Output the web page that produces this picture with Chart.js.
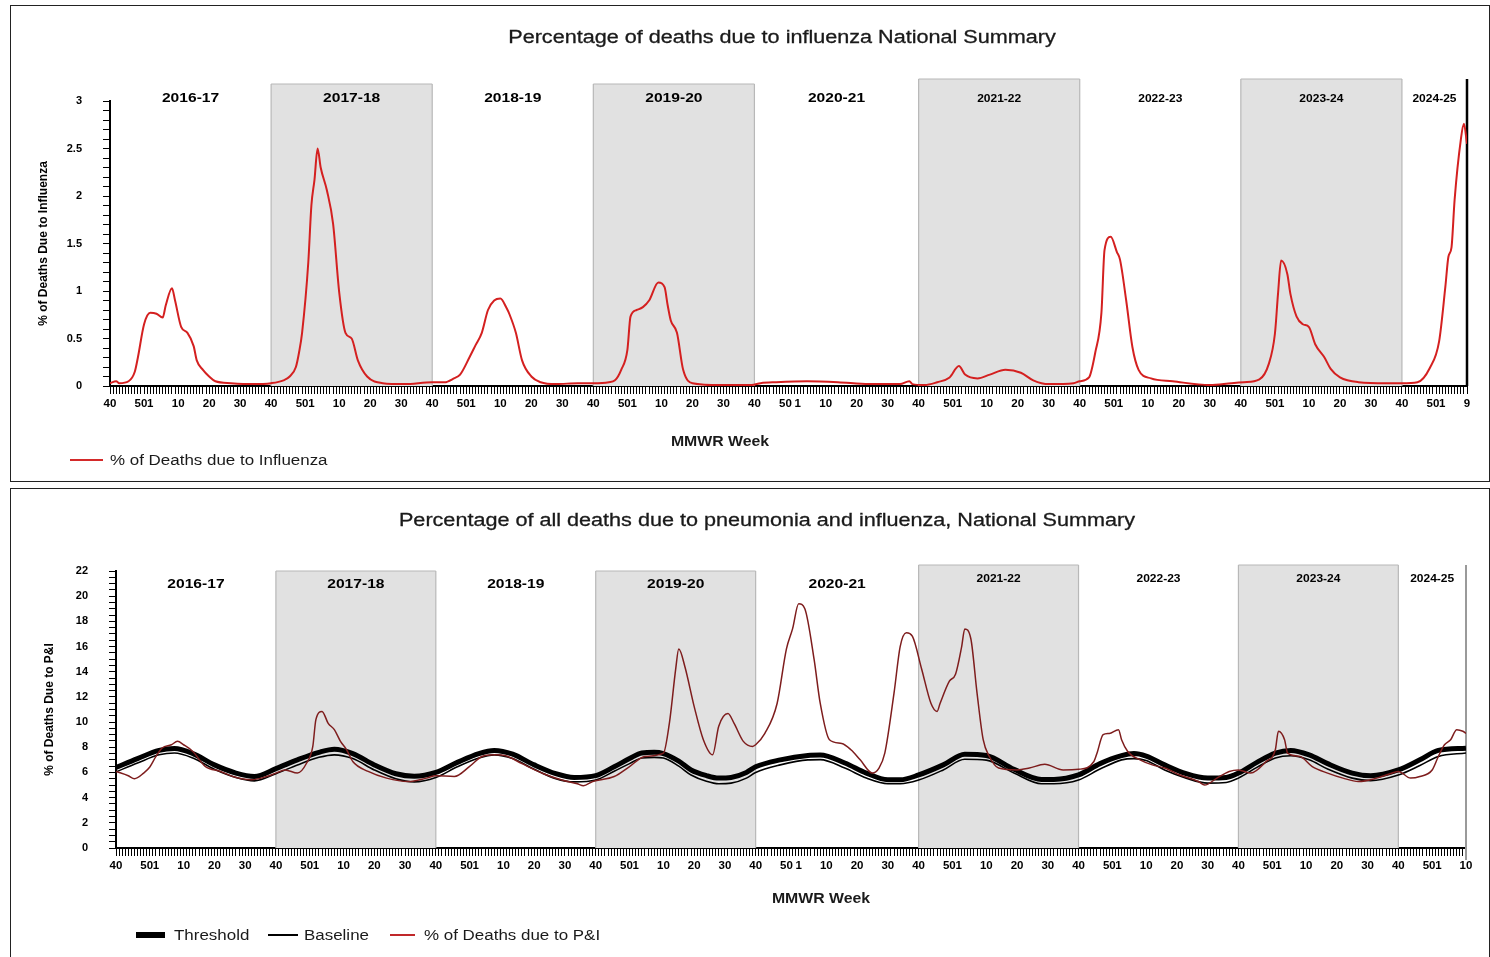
<!DOCTYPE html>
<html>
<head>
<meta charset="utf-8">
<title>Influenza and P&amp;I mortality, National Summary</title>
<script src="https://cdn.jsdelivr.net/npm/chart.js@4.4.1/dist/chart.umd.min.js"></script>
<style>
  html, body { margin: 0; padding: 0; background: #fff; overflow: hidden; }
  body { width: 1490px; height: 957px; position: relative; font-family: 'Liberation Sans', Arial, sans-serif; color: #1a1a1a; }
  .panel { position: absolute; box-sizing: border-box; border: 1.5px solid #222; }
  .plot { position: absolute; left: 0; top: 0; right: 0; bottom: 0; }
  .txt { position: absolute; white-space: nowrap; }
  .title { font-size: 18px; line-height: 22px; width: 1000px; text-align: center; -webkit-text-stroke: 0.3px #1a1a1a; transform: scaleX(1.2); }
  .xtitle { font-size: 14px; font-weight: bold; line-height: 16px; width: 200px; text-align: center; transform: scaleX(1.13); }
  .legend { font-size: 14px; line-height: 16px; transform: scaleX(1.21); transform-origin: left center; }
  .swatch { position: absolute; }
</style>
</head>
<body>
<div class="panel" style="left:10px;top:5px;width:1480px;height:477px"><div class="plot"><canvas id="fluChart"></canvas></div></div>
<div class="panel" style="left:10px;top:488px;width:1480px;height:469px;border-bottom:none"><div class="plot"><canvas id="piChart"></canvas></div></div>

<div class="txt title" style="left:282px;top:26px">Percentage of deaths due to influenza National Summary</div>
<div class="txt xtitle" style="left:620px;top:433px">MMWR Week</div>
<div class="swatch" style="left:70px;top:459px;width:33px;height:2px;background:#d42a2a"></div>
<div class="txt legend" style="left:110px;top:452px">% of Deaths due to Influenza</div>

<div class="txt title" style="left:267px;top:509px">Percentage of all deaths due to pneumonia and influenza, National Summary</div>
<div class="txt xtitle" style="left:721px;top:890px">MMWR Week</div>
<div class="swatch" style="left:136px;top:932px;width:29px;height:6px;background:#000"></div>
<div class="txt legend" style="left:174px;top:927px">Threshold</div>
<div class="swatch" style="left:268px;top:934px;width:30px;height:2px;background:#000"></div>
<div class="txt legend" style="left:304px;top:927px">Baseline</div>
<div class="swatch" style="left:390px;top:934px;width:25px;height:2px;background:#c0282a"></div>
<div class="txt legend" style="left:424px;top:927px">% of Deaths due to P&amp;I</div>

<script>
// seasons and MMWR week bookkeeping (index 0 = week 40 of 2016)
const seasons = ['2016-17', '2017-18', '2018-19', '2019-20', '2020-21', '2021-22', '2022-23', '2023-24', '2024-25'];
const seasonStart = [0, 52, 104, 156, 208, 261, 313, 365, 417];
const seasonWeeks = [52, 52, 52, 52, 53, 52, 52, 52, 52]; // 2020 had a week 53
const labeledWeeks = [40, 50, 1, 10, 20, 30];

// % of deaths due to influenza
const fluWeek = [0, 2, 3, 6, 8, 9, 11, 13, 15, 17, 18, 20, 21, 23, 25, 27, 28, 30, 32, 34, 39, 46,
  52, 56, 58, 60, 61, 62, 64, 65, 66, 67, 68, 70, 72, 74, 76, 78, 80, 83, 88, 95,
  104, 108, 111, 113, 116, 118, 120, 122, 124, 126, 128, 129, 131, 133, 136, 139, 144, 151,
  156, 161, 163, 165, 167, 168, 170, 172, 174, 177, 179, 180, 181, 183, 185, 188, 197, 207,
  210, 215, 225, 235, 245, 255, 258, 259,
  263, 267, 271, 274, 276, 280, 284, 289, 294, 298, 303, 311,
  313, 316, 318, 320, 321, 323, 325, 326, 328, 330, 332, 336, 343, 355, 362,
  366, 371, 374, 376, 377, 378, 380, 381, 383, 385, 387, 389, 392, 394, 397, 403, 412,
  417, 422, 426, 429, 431, 432, 433, 434, 436, 437, 438];
const fluPct = [0.03, 0.05, 0.03, 0.05, 0.15, 0.3, 0.65, 0.77, 0.76, 0.72, 0.85, 1.03, 0.9, 0.62, 0.56, 0.42, 0.27, 0.17, 0.1, 0.05, 0.03, 0.02,
  0.03, 0.06, 0.1, 0.2, 0.35, 0.56, 1.3, 1.9, 2.17, 2.5, 2.3, 2.06, 1.71, 0.98, 0.56, 0.5, 0.27, 0.1, 0.03, 0.02,
  0.04, 0.04, 0.08, 0.12, 0.3, 0.43, 0.56, 0.8, 0.9, 0.92, 0.82, 0.75, 0.56, 0.27, 0.1, 0.04, 0.02, 0.03,
  0.03, 0.04, 0.06, 0.17, 0.38, 0.73, 0.8, 0.83, 0.9, 1.09, 1.04, 0.85, 0.69, 0.56, 0.17, 0.03, 0.01, 0.01,
  0.03, 0.04, 0.05, 0.04, 0.02, 0.02, 0.05, 0.02,
  0.01, 0.04, 0.09, 0.21, 0.12, 0.08, 0.12, 0.17, 0.14, 0.06, 0.02, 0.03,
  0.05, 0.09, 0.35, 0.77, 1.43, 1.57, 1.41, 1.33, 0.9, 0.41, 0.17, 0.08, 0.05, 0.01, 0.03,
  0.04, 0.07, 0.23, 0.55, 0.97, 1.32, 1.18, 0.97, 0.73, 0.65, 0.62, 0.44, 0.3, 0.18, 0.09, 0.04, 0.03,
  0.03, 0.04, 0.19, 0.47, 1.04, 1.36, 1.46, 1.96, 2.59, 2.76, 2.55];

// % of deaths due to pneumonia and influenza
const piWeek = [0, 4, 6, 9, 11, 13, 15, 18, 20, 22, 25, 29, 34, 38, 44, 49,
  52, 55, 59, 62, 64, 65, 67, 69, 71, 73, 75, 77, 82, 88, 95, 101,
  104, 110, 115, 119, 123, 127, 132, 139, 145, 150, 152, 155,
  162, 167, 172, 178, 180, 182, 183, 185, 188, 191, 194, 196, 199, 201, 204, 207,
  208, 211, 215, 218, 220, 222, 224, 227, 229, 232, 236, 239, 242, 246, 248, 250, 253, 255, 257, 259,
  262, 265, 267, 268, 271, 273, 275, 276, 278, 280, 282, 284, 287, 293, 297, 302, 308,
  313, 318, 319, 321, 323, 326, 327, 329, 333, 337, 341, 346, 352, 354, 358, 362,
  365, 369, 374, 377, 378, 380, 381, 385, 389, 394, 399, 404, 410, 415,
  417, 421, 424, 428, 430, 432, 434, 436, 438, 439];
const piPct = [6.08, 5.74, 5.5, 5.95, 6.43, 7.27, 7.94, 8.2, 8.47, 8.2, 7.67, 6.48, 6.08, 5.68, 5.42, 5.68,
  5.95, 6.2, 5.95, 6.75, 8.07, 10.2, 10.85, 9.9, 9.4, 8.47, 7.8, 6.87, 6.08, 5.55, 5.28, 5.55,
  5.74, 5.68, 6.48, 7.27, 7.4, 7.3, 6.7, 5.9, 5.4, 5.1, 4.94, 5.28,
  5.68, 6.47, 7.27, 7.53, 10.0, 14.2, 15.8, 14.4, 11.25, 8.6, 7.4, 9.67, 10.68, 9.9, 8.47, 8.07,
  8.2, 9.1, 11.5, 15.8, 17.4, 19.4, 19.0, 15.0, 11.5, 8.6, 8.3, 7.8, 7.0, 5.95, 6.3, 7.53, 12.3, 16.0, 17.1, 16.8,
  14.2, 11.5, 10.85, 11.5, 13.25, 13.8, 16.0, 17.4, 16.6, 12.3, 8.6, 7.27, 6.35, 6.2, 6.35, 6.65, 6.2,
  6.25, 6.87, 7.53, 9.0, 9.1, 9.4, 8.6, 7.67, 7.0, 6.6, 6.35, 5.8, 5.28, 5.0, 5.55, 6.08,
  6.2, 5.95, 6.87, 7.8, 9.27, 8.6, 7.53, 7.27, 6.47, 5.95, 5.55, 5.28, 5.55, 5.95,
  6.08, 5.55, 5.68, 6.2, 7.27, 8.2, 8.6, 9.4, 9.27, 9.1];

// seasonal baseline and epidemic threshold
const bandWeek = [0, 7, 14, 19, 25, 32, 39, 45,
  52, 59, 66, 71, 77, 84, 91, 97,
  104, 111, 118, 123, 129, 136, 143, 149,
  156, 162, 167, 171, 175, 178, 183, 187, 192, 196, 200, 205,
  208, 216, 225, 229, 237, 244, 251, 255,
  261, 269, 276, 283, 292, 301, 305,
  313, 320, 327, 331, 335, 341, 348, 355, 361,
  365, 371, 377, 382, 388, 394, 402, 408,
  417, 424, 430, 439];
const thresholdPct = [6.4, 7.1, 7.75, 7.9, 7.5, 6.6, 5.95, 5.68,
  6.3, 7.0, 7.6, 7.85, 7.5, 6.6, 5.9, 5.7,
  6.0, 6.8, 7.5, 7.75, 7.45, 6.6, 5.9, 5.6,
  5.75, 6.45, 7.1, 7.55, 7.6, 7.5, 6.9, 6.2, 5.75, 5.55, 5.6, 6.0,
  6.45, 7.0, 7.35, 7.38, 6.75, 5.95, 5.42, 5.42,
  5.8, 6.6, 7.45, 7.35, 6.25, 5.45, 5.45,
  5.8, 6.7, 7.33, 7.5, 7.3, 6.6, 5.9, 5.55, 5.6,
  5.95, 6.8, 7.53, 7.75, 7.4, 6.7, 5.95, 5.74,
  6.2, 7.0, 7.75, 7.93];
const baselinePct = [6.05, 6.75, 7.4, 7.55, 7.15, 6.25, 5.6, 5.33,
  5.9, 6.6, 7.2, 7.4, 7.1, 6.2, 5.5, 5.25,
  5.6, 6.45, 7.15, 7.4, 7.1, 6.25, 5.5, 5.25,
  5.4, 6.1, 6.7, 7.15, 7.2, 7.15, 6.5, 5.8, 5.3, 5.1, 5.15, 5.55,
  6.0, 6.6, 7.0, 7.02, 6.35, 5.55, 5.1, 5.1,
  5.4, 6.2, 7.05, 6.98, 5.95, 5.1, 5.1,
  5.4, 6.27, 7.0, 7.1, 6.95, 6.2, 5.55, 5.15, 5.2,
  5.55, 6.4, 7.15, 7.33, 7.0, 6.27, 5.55, 5.35,
  5.8, 6.55, 7.27, 7.55];

const sans = "'Liberation Sans', Arial, sans-serif";
Chart.defaults.font.family = sans;
Chart.defaults.color = '#000';

const pairs = (xs, ys) => xs.map((x, i) => ({ x, y: ys[i] }));

function weekOf(i) {
  let s = seasonStart.length - 1;
  while (seasonStart[s] > i) s--;
  const w = 40 + i - seasonStart[s];
  return w > seasonWeeks[s] ? w - seasonWeeks[s] : w;
}

// grey bands on alternate seasons, season names, closing line on the right
const seasonPlugin = {
  id: 'seasons',
  beforeDatasetsDraw(chart, args, opts) {
    const { ctx, chartArea, scales: { x } } = chart;
    ctx.save();
    seasons.forEach((name, i) => {
      const late = i >= 5;
      const x0 = x.getPixelForValue(seasonStart[i]);
      const x1 = i + 1 < seasons.length ? x.getPixelForValue(seasonStart[i + 1]) : chartArea.right;
      if (i % 2 === 1) {
        const top = chartArea.top - (late ? opts.lateLift : opts.lift);
        ctx.fillStyle = '#e1e1e1';
        ctx.fillRect(x0, top, x1 - x0, chartArea.bottom - top);
        ctx.strokeStyle = '#b8b8b8';
        ctx.lineWidth = 1.2;
        ctx.beginPath();
        ctx.moveTo(x0, top); ctx.lineTo(x0, chartArea.bottom);
        ctx.moveTo(x1, top); ctx.lineTo(x1, chartArea.bottom);
        ctx.moveTo(x0, top); ctx.lineTo(x1, top);
        ctx.stroke();
      }
      ctx.save();
      ctx.translate((x0 + x1) / 2, chartArea.top + (late ? opts.lateLabelY : opts.labelY));
      ctx.scale(1.2, 1);
      ctx.fillStyle = '#000';
      ctx.font = 'bold ' + (late ? opts.lateSize : opts.size) + 'px ' + sans;
      ctx.textAlign = 'center';
      ctx.textBaseline = 'middle';
      ctx.fillText(name, 0, 0);
      ctx.restore();
    });
    ctx.strokeStyle = opts.edgeColor;
    ctx.lineWidth = opts.edgeWidth;
    ctx.beginPath();
    ctx.moveTo(chartArea.right, chartArea.top - opts.lateLift);
    ctx.lineTo(chartArea.right, chartArea.bottom + opts.edgeDrop);
    ctx.stroke();
    ctx.restore();
  }
};

function xAxis(max, height) {
  return {
    type: 'linear', min: 0, max: max,
    afterFit: (scale) => { scale.height = height; },
    border: { display: true, color: '#000', width: 2 },
    grid: { drawOnChartArea: false, drawTicks: true, tickLength: 8, color: '#000', lineWidth: 1 },
    ticks: {
      stepSize: 1, autoSkip: false, maxTicksLimit: 1000, maxRotation: 0, minRotation: 0, padding: 3,
      font: { size: 11.5, weight: 'bold' },
      callback: (v) => {
        const i = Math.round(v);
        const w = weekOf(i);
        return labeledWeeks.includes(w) || i === max ? String(w) : '';
      }
    }
  };
}

function yAxis(max, step, every, width, title, titlePad) {
  return {
    min: 0, max: max,
    afterFit: (scale) => { scale.width = width; },
    border: { display: true, color: '#000', width: 2 },
    grid: { drawOnChartArea: false, drawTicks: true, tickLength: 7, color: '#000', lineWidth: 1 },
    ticks: {
      stepSize: step, autoSkip: false, maxTicksLimit: 1000, padding: 21,
      font: { size: 11, weight: 'bold' },
      callback: (v) => {
        const r = Math.round(v / step);
        return r % every === 0 ? String(Math.round(v * 10) / 10) : '';
      }
    },
    title: { display: true, text: title, padding: { top: titlePad, bottom: 0 }, font: { size: 12, weight: 'bold' } }
  };
}

new Chart(document.getElementById('fluChart'), {
  type: 'line',
  data: {
    datasets: [{
      label: '% of Deaths due to Influenza',
      data: pairs(fluWeek, fluPct),
      borderColor: '#d42020',
      borderWidth: 2,
      pointRadius: 0,
      cubicInterpolationMode: 'monotone'
    }]
  },
  options: {
    responsive: true,
    maintainAspectRatio: false,
    animation: false,
    events: [],
    layout: { padding: { top: 95, right: 22, left: 0, bottom: 0 } },
    scales: {
      x: xAxis(438, 95),
      y: yAxis(3, 0.1, 5, 99, '% of Deaths Due to Influenza', 25)
    },
    plugins: {
      legend: { display: false },
      tooltip: { enabled: false },
      seasons: { lift: 17, lateLift: 22, labelY: -3, lateLabelY: -2, size: 13, lateSize: 10, edgeColor: '#000', edgeWidth: 2.5, edgeDrop: 0 }
    }
  },
  plugins: [seasonPlugin]
});

new Chart(document.getElementById('piChart'), {
  type: 'line',
  data: {
    datasets: [{
      label: '% of Deaths due to P&I',
      data: pairs(piWeek, piPct),
      borderColor: '#7e1d1d',
      borderWidth: 1.5,
      pointRadius: 0,
      cubicInterpolationMode: 'monotone'
    }, {
      label: 'Threshold',
      data: pairs(bandWeek, thresholdPct),
      borderColor: '#000',
      borderWidth: 5,
      pointRadius: 0,
      cubicInterpolationMode: 'monotone'
    }, {
      label: 'Baseline',
      data: pairs(bandWeek, baselinePct),
      borderColor: '#000',
      borderWidth: 1.6,
      pointRadius: 0,
      cubicInterpolationMode: 'monotone'
    }]
  },
  options: {
    responsive: true,
    maintainAspectRatio: false,
    animation: false,
    events: [],
    layout: { padding: { top: 82, right: 23, left: 0, bottom: 0 } },
    scales: {
      x: xAxis(439, 109),
      y: yAxis(22, 0.5, 4, 105, '% of Deaths Due to P&I', 31)
    },
    plugins: {
      legend: { display: false },
      tooltip: { enabled: false },
      seasons: { lift: 0, lateLift: 6, labelY: 13, lateLabelY: 8, size: 13, lateSize: 10, edgeColor: '#9a9a9a', edgeWidth: 2, edgeDrop: 12 }
    }
  },
  plugins: [seasonPlugin]
});
</script>
</body>
</html>
